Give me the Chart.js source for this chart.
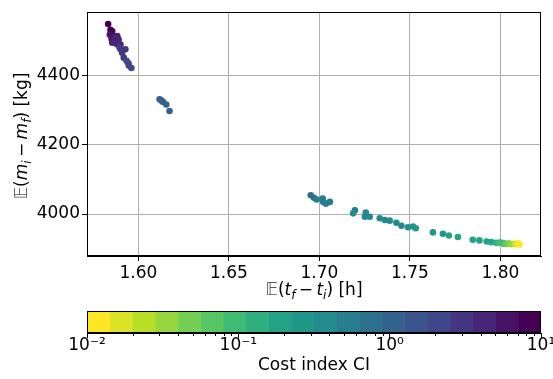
<!DOCTYPE html>
<html>
<head>
<meta charset="utf-8">
<title>Fuel vs flight time</title>
<script src="https://cdn.jsdelivr.net/npm/chart.js@4.4.1/dist/chart.umd.min.js"></script>
<style>
  html, body { margin: 0; padding: 0; background: #fff; }
  #wrap { position: relative; width: 553px; height: 379px; overflow: hidden; }
  #main { position: absolute; left: 0; top: 0; width: 553px; height: 300px; }
  #bar { position: absolute; left: 0; top: 300px; width: 600px; height: 79px; }
</style>
</head>
<body>
<div id="wrap">
  <div id="main"><canvas id="scatterChart"></canvas></div>
  <div id="bar"><canvas id="colorbarChart"></canvas></div>
</div>
<script>
// Flight time E(tf - ti) [h]
const duration = [
    1.5833, 1.5846, 1.5855, 1.5842, 1.5864, 1.5852, 1.5883, 1.5870, 1.5891, 1.5873, 1.5855,
    1.5880, 1.5901, 1.5895, 1.5901, 1.5928, 1.5910, 1.5919, 1.5934, 1.5945, 1.5947, 1.5961,
    1.6117, 1.6128, 1.6136, 1.6154, 1.6172,
    1.6952, 1.6970, 1.6985, 1.7018, 1.7021, 1.7036, 1.7058,
    1.7196, 1.7186, 1.7256, 1.7251, 1.7278, 1.7333, 1.7361, 1.7388, 1.7425, 1.7453, 1.7489,
    1.7517, 1.7532, 1.7627, 1.7682, 1.7715, 1.7765, 1.7847, 1.7884, 1.7924, 1.7949, 1.7976,
    1.8000, 1.7994, 1.8020, 1.8010, 1.8028, 1.8040, 1.8050, 1.8060, 1.8077, 1.8085, 1.8090,
    1.8100, 1.8105
];

// Fuel burned E(mi - mf) [kg]
const fuelUsed = [
    4548, 4531, 4527, 4517, 4513, 4505, 4513, 4508, 4503, 4496, 4494,
    4490, 4489, 4482, 4475, 4475, 4465, 4451, 4442, 4435, 4428, 4421,
    4331, 4327, 4323, 4316, 4297,
    4054, 4047, 4042, 4045, 4035, 4030, 4035,
    4011, 4002, 4004, 3992, 3992, 3988, 3983, 3981, 3975, 3966, 3962,
    3964, 3959, 3947, 3943, 3938, 3934, 3926, 3924, 3921, 3919, 3917,
    3918, 3917, 3914, 3916, 3915, 3914, 3915, 3913, 3914, 3913, 3914,
    3915, 3912
];

// Cost index CI of each run
const costIndex = [
    9.0, 8.0, 7.2, 6.5, 6.0, 5.5, 5.0, 4.8, 4.5, 4.2, 4.0,
    3.8, 3.6, 3.4, 3.2, 3.0, 2.8, 2.6, 2.4, 2.2, 2.0, 1.9,
    1.15, 1.1, 1.05, 1.0, 0.95,
    0.68, 0.64, 0.6, 0.57, 0.54, 0.5, 0.48,
    0.45, 0.44, 0.43, 0.42, 0.41, 0.4, 0.38, 0.37, 0.36, 0.34, 0.32,
    0.3, 0.29, 0.26, 0.24, 0.22, 0.2, 0.19, 0.18, 0.17, 0.16, 0.14,
    0.12, 0.1, 0.09, 0.08, 0.07, 0.05, 0.04, 0.03, 0.02, 0.018, 0.015,
    0.013, 0.011
];

const xTicks = [1.60, 1.65, 1.70, 1.75, 1.80];
const yTicks = [4000, 4200, 4400];
const cbTicks = [0.01, 0.1, 1, 10];
const cbLabels = ['10\u207B\u00B2', '10\u207B\u00B9', '10\u2070', '10\u00B9'];
const cbMinorMantissa = [2, 3, 4, 5, 6, 7, 8, 9];

const FONT = 'DejaVu Sans';
const nLevels = 20;
const ciMin = 0.01;
const ciMax = 10;

// Viridis anchors (0 .. 1)
const viridis = ['#440154', '#482475', '#414487', '#355f8d', '#2a788e', '#21918c',
                 '#22a884', '#44bf70', '#7ad151', '#bddf26', '#fde725'];

function hexToRgb(h) {
    return [parseInt(h.slice(1, 3), 16), parseInt(h.slice(3, 5), 16), parseInt(h.slice(5, 7), 16)];
}

function viridisAt(t) {
    t = Math.min(1, Math.max(0, t));
    const pos = t * (viridis.length - 1);
    const i = Math.min(viridis.length - 2, Math.floor(pos));
    const f = pos - i;
    const a = hexToRgb(viridis[i]);
    const b = hexToRgb(viridis[i + 1]);
    const c = a.map((v, k) => Math.round(v + (b[k] - v) * f));
    return `rgb(${c[0]}, ${c[1]}, ${c[2]})`;
}

// Reversed, 20-level log colormap: low CI -> yellow
function levelColor(level) {
    return viridisAt(1 - level / (nLevels - 1));
}

function ciColor(ci) {
    const t = (Math.log10(ci) - Math.log10(ciMin)) / (Math.log10(ciMax) - Math.log10(ciMin));
    const level = Math.min(nLevels - 1, Math.max(0, Math.floor(t * nLevels)));
    return levelColor(level);
}

// Text with italic parts and subscripts
function drawRich(ctx, segs, size) {
    const parts = segs.map(s => {
        const fs = s.sub ? Math.round(size * 0.7) : size;
        const font = `${s.it ? 'italic ' : ''}${fs}px "${FONT}"`;
        ctx.font = font;
        return { ...s, font, w: ctx.measureText(s.t).width, dy: s.sub ? size * 0.22 : 0 };
    });
    const total = parts.reduce((a, p) => a + p.w, 0);
    let x = -total / 2;
    parts.forEach(p => {
        ctx.font = p.font;
        ctx.fillStyle = p.color || '#000';
        ctx.fillText(p.t, x, p.dy);
        x += p.w;
    });
}

const xLabel = [
    { t: '\uD835\uDD3C', color: '#555' }, { t: '(' }, { t: 't', it: true }, { t: 'f', it: true, sub: true },
    { t: '\u2009\u2212\u2009' }, { t: 't', it: true }, { t: 'i', it: true, sub: true }, { t: ') [h]' }
];
const yLabel = [
    { t: '\uD835\uDD3C', color: '#555' }, { t: '(' }, { t: 'm', it: true }, { t: 'i', it: true, sub: true },
    { t: '\u2009\u2212\u2009' }, { t: 'm', it: true }, { t: 'f', it: true, sub: true }, { t: ') [kg]' }
];

// Black box round the plot area
const framePlugin = {
    id: 'frame',
    afterDraw(chart) {
        const { ctx, chartArea: a } = chart;
        ctx.save();
        ctx.strokeStyle = '#000';
        ctx.lineWidth = 1;
        ctx.strokeRect(Math.round(a.left) + 0.5, Math.round(a.top) + 0.5,
                       Math.round(a.right - a.left) - 1, Math.round(a.bottom - a.top) - 1);
        ctx.restore();
    }
};

const axisLabelPlugin = {
    id: 'axisLabels',
    afterDraw(chart) {
        const { ctx, chartArea: a } = chart;
        ctx.save();
        ctx.textBaseline = 'alphabetic';
        ctx.textAlign = 'left';
        ctx.translate((a.left + a.right) / 2, 295);
        drawRich(ctx, xLabel, 17);
        ctx.restore();

        ctx.save();
        ctx.textBaseline = 'alphabetic';
        ctx.textAlign = 'left';
        ctx.translate(27, 136);
        ctx.rotate(-Math.PI / 2);
        drawRich(ctx, yLabel, 17);
        ctx.restore();
    }
};

// Short minor ticks on the log colorbar
const minorTickPlugin = {
    id: 'minorTicks',
    afterDraw(chart) {
        const scale = chart.scales.x;
        const { ctx } = chart;
        const y0 = chart.chartArea.bottom;
        ctx.save();
        ctx.strokeStyle = '#000';
        ctx.lineWidth = 1;
        cbTicks.slice(0, -1).forEach(d => {
            cbMinorMantissa.forEach(m => {
                const x = Math.round(scale.getPixelForValue(m * d)) + 0.5;
                ctx.beginPath();
                ctx.moveTo(x, y0);
                ctx.lineTo(x, y0 + 3);
                ctx.stroke();
            });
        });
        ctx.restore();
    }
};

const tickFont = { family: FONT, size: 17 };

function initScatter() {
    const ctx = document.getElementById('scatterChart').getContext('2d');
    new Chart(ctx, {
        type: 'scatter',
        data: {
            datasets: [{
                data: duration.map((x, i) => ({ x, y: fuelUsed[i] })),
                pointBackgroundColor: costIndex.map(ciColor),
                pointBorderWidth: 0,
                pointRadius: 3.3,
                pointHoverRadius: 3.3
            }]
        },
        options: {
            responsive: true,
            maintainAspectRatio: false,
            animation: false,
            layout: { padding: { top: 9, right: 12, left: 0, bottom: 0 } },
            plugins: { legend: { display: false }, tooltip: { enabled: false } },
            scales: {
                x: {
                    type: 'linear',
                    min: 1.5716,
                    max: 1.8224,
                    afterBuildTicks: s => { s.ticks = xTicks.map(v => ({ value: v })); },
                    afterFit: s => { s.height = 44; },
                    ticks: {
                        callback: v => v.toFixed(2),
                        font: tickFont,
                        color: '#000',
                        padding: 2,
                        maxRotation: 0,
                        autoSkip: false
                    },
                    grid: { color: '#b0b0b0', lineWidth: 1, tickColor: '#000', tickLength: 5 },
                    border: { color: '#000', width: 1 }
                },
                y: {
                    type: 'linear',
                    min: 3879,
                    max: 4582,
                    afterBuildTicks: s => { s.ticks = yTicks.map(v => ({ value: v })); },
                    afterFit: s => { s.width = 87; },
                    ticks: {
                        callback: v => String(v),
                        font: tickFont,
                        color: '#000',
                        padding: 2,
                        autoSkip: false
                    },
                    grid: { color: '#b0b0b0', lineWidth: 1, tickColor: '#000', tickLength: 5 },
                    border: { color: '#000', width: 1 }
                }
            }
        },
        plugins: [framePlugin, axisLabelPlugin]
    });
}

function initColorbar() {
    const ctx = document.getElementById('colorbarChart').getContext('2d');
    const step = (Math.log10(ciMax) - Math.log10(ciMin)) / nLevels;
    const datasets = [];
    for (let i = 0; i < nLevels; i++) {
        const lo = Math.pow(10, Math.log10(ciMin) + i * step);
        const hi = Math.pow(10, Math.log10(ciMin) + (i + 1) * step);
        datasets.push({
            data: [[lo, hi]],
            backgroundColor: levelColor(i),
            borderColor: levelColor(i),
            borderWidth: 0,
            barPercentage: 1,
            categoryPercentage: 1,
            grouped: false
        });
    }

    new Chart(ctx, {
        type: 'bar',
        data: { labels: ['CI'], datasets },
        options: {
            indexAxis: 'y',
            responsive: true,
            maintainAspectRatio: false,
            animation: false,
            layout: { padding: { top: 11, right: 59, left: 87, bottom: 0 } },
            plugins: { legend: { display: false }, tooltip: { enabled: false } },
            scales: {
                x: {
                    type: 'logarithmic',
                    min: ciMin,
                    max: ciMax,
                    afterBuildTicks: s => { s.ticks = cbTicks.map(v => ({ value: v })); },
                    afterFit: s => { s.height = 46; },
                    ticks: {
                        callback: v => cbLabels[cbTicks.indexOf(v)],
                        font: tickFont,
                        color: '#000',
                        padding: -3,
                        maxRotation: 0,
                        autoSkip: false
                    },
                    grid: { drawOnChartArea: false, tickColor: '#000', tickLength: 5 },
                    border: { color: '#000', width: 1 },
                    title: {
                        display: true,
                        text: 'Cost index CI',
                        font: tickFont,
                        color: '#000',
                        padding: { top: 0, bottom: 3 }
                    }
                },
                y: { display: false }
            }
        },
        plugins: [framePlugin, minorTickPlugin]
    });
}

document.addEventListener('DOMContentLoaded', () => {
    initScatter();
    initColorbar();
});
</script>
</body>
</html>
